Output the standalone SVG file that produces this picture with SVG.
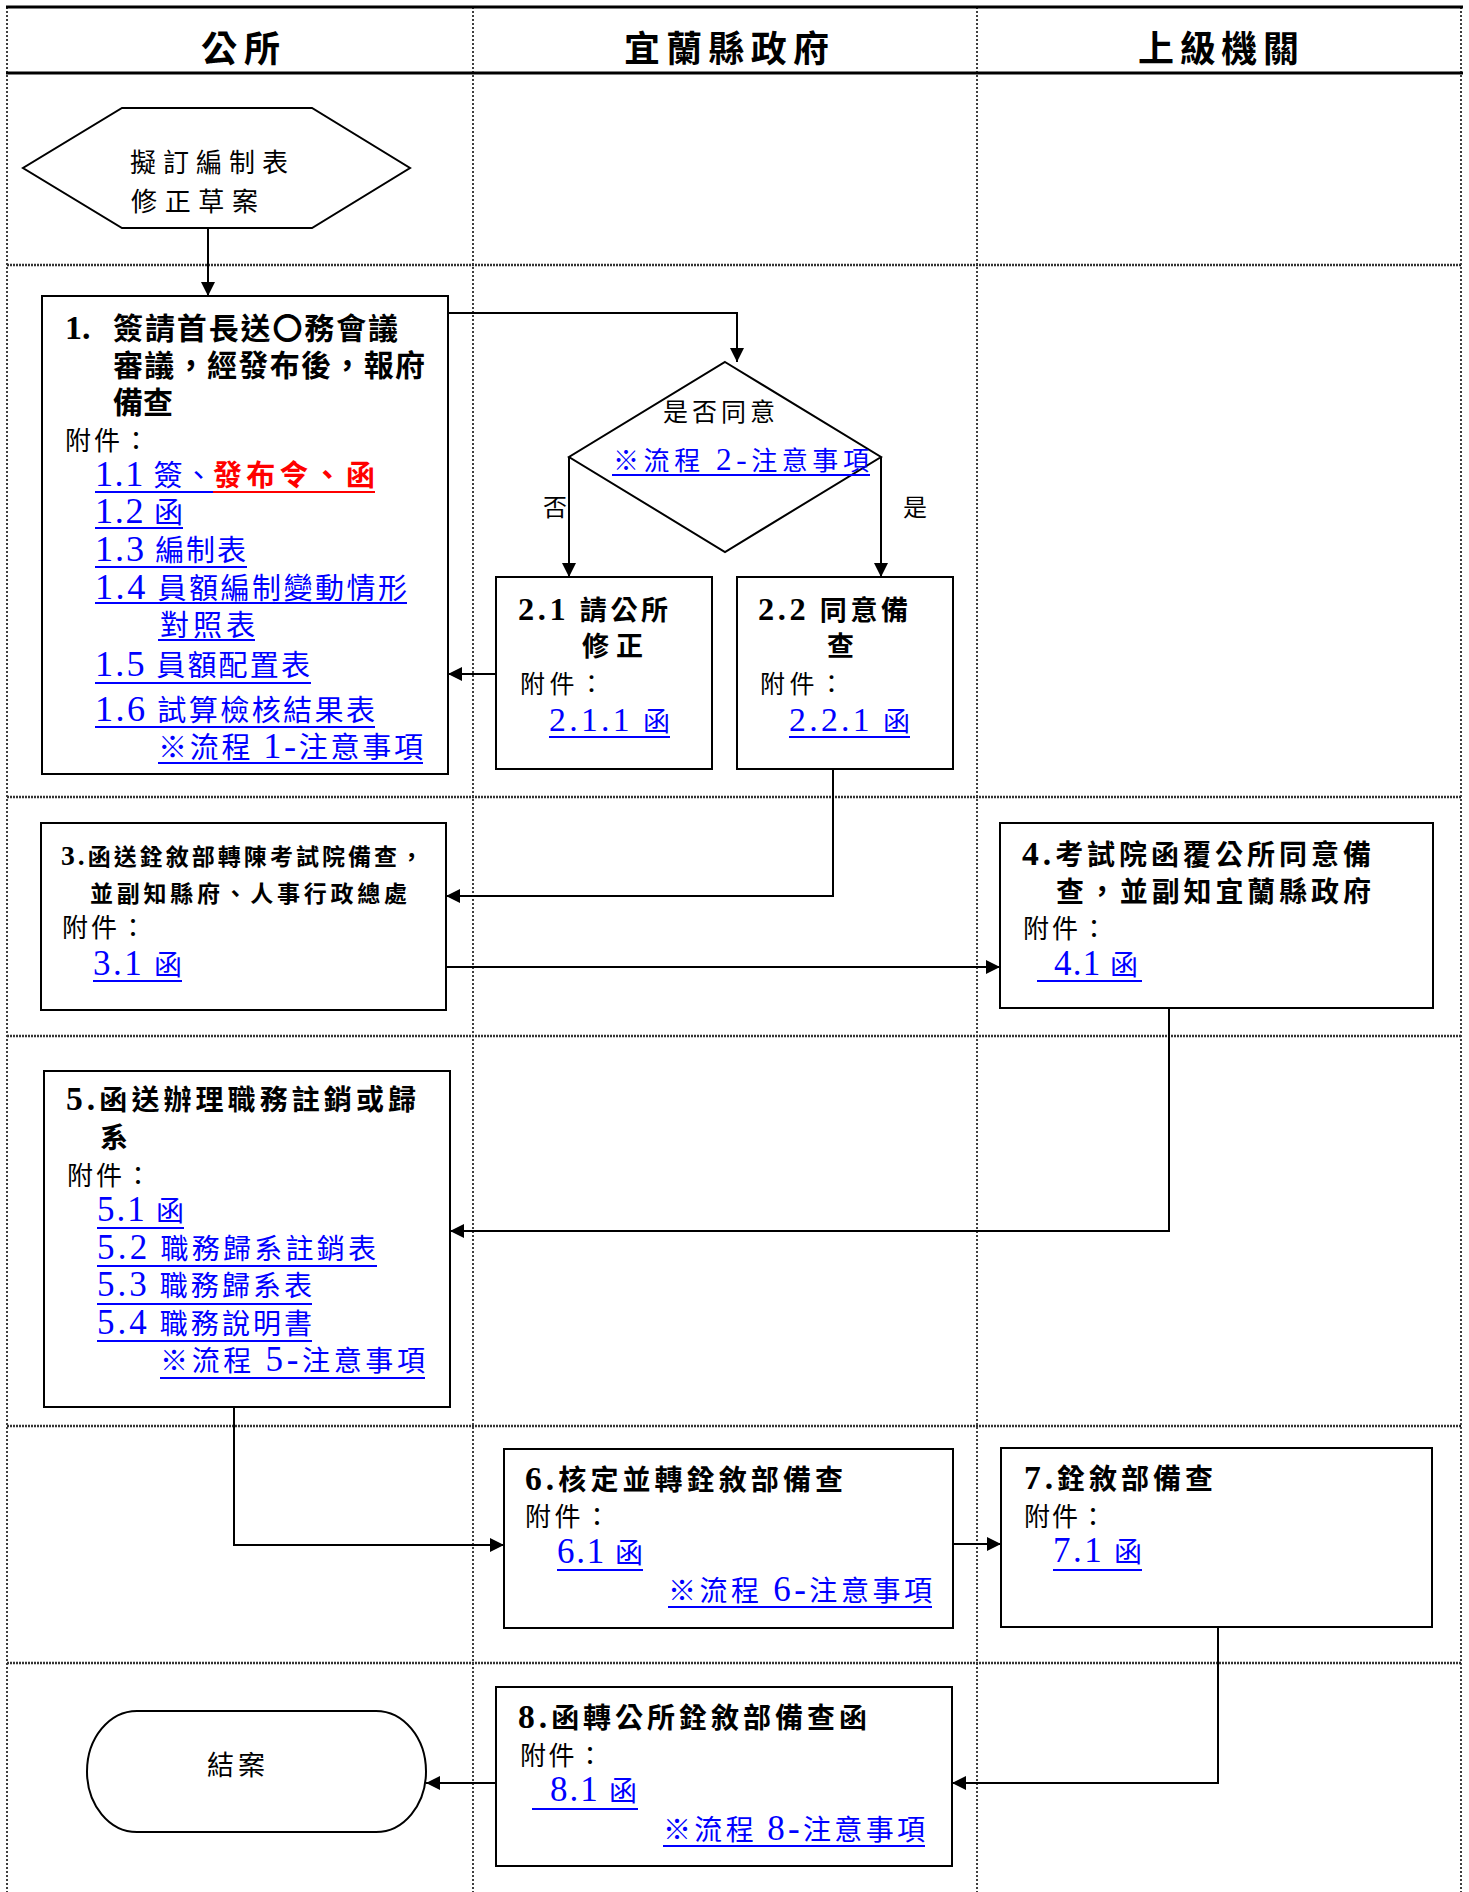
<svg xmlns="http://www.w3.org/2000/svg" width="1469" height="1892" viewBox="0 0 1469 1892">
<style>
text{font-family:"Liberation Serif","Noto Sans CJK TC",serif;fill:#000}
.hd{font-size:36px;font-weight:bold}
.b{font-weight:bold}
.lk{fill:#0000FF}
.rd{fill:#FF0000;font-weight:bold}
.dg{font-size:1.25em}
.dt{font-size:1.2em}
.box{fill:#fff;stroke:#000;stroke-width:2}
.shape{fill:#fff;stroke:#000;stroke-width:2}
.ul{stroke:#0000FF;stroke-width:2}
.ulr{stroke:#FF0000;stroke-width:2}
.conn{fill:none;stroke:#000;stroke-width:2}
.row{stroke:#333;stroke-width:2.5;stroke-dasharray:2 1}
.col{stroke:#000;stroke-width:1.5;stroke-dasharray:2 2}
.thick{stroke:#000;stroke-width:3}
</style>
<defs>
<marker id="arr" viewBox="0 0 10 10" refX="10" refY="5" markerWidth="15" markerHeight="14" markerUnits="userSpaceOnUse" orient="auto">
<path d="M0,0 L10,5 L0,10 Z" fill="#000"/>
</marker>
</defs>
<rect width="1469" height="1892" fill="#fff"/>
<g id="grid">
<line class="thick" x1="6" y1="7" x2="1463" y2="7"/>
<line class="thick" x1="6" y1="73" x2="1463" y2="73"/>
<line class="col" x1="7" y1="7" x2="7" y2="1892"/>
<line class="col" x1="473" y1="7" x2="473" y2="1892"/>
<line class="col" x1="977" y1="7" x2="977" y2="1892"/>
<line class="col" x1="1461" y1="7" x2="1461" y2="1892"/>
<line class="row" x1="7" y1="265" x2="1461" y2="265"/>
<line class="row" x1="7" y1="797" x2="1461" y2="797"/>
<line class="row" x1="7" y1="1036" x2="1461" y2="1036"/>
<line class="row" x1="7" y1="1426" x2="1461" y2="1426"/>
<line class="row" x1="7" y1="1663" x2="1461" y2="1663"/>
</g>
<g id="headers">
<text class="hd" x="201" y="62" textLength="79" lengthAdjust="spacing">公所</text>
<text class="hd" x="624" y="62" textLength="205" lengthAdjust="spacing">宜蘭縣政府</text>
<text class="hd" x="1138" y="62" textLength="161" lengthAdjust="spacing">上級機關</text>
</g>
<g id="connectors">
<path class="conn" d="M208,228 V296" marker-end="url(#arr)"/>
<path class="conn" d="M448,313 H737 V362" marker-end="url(#arr)"/>
<path class="conn" d="M569,457 V577" marker-end="url(#arr)"/>
<path class="conn" d="M881,457 V577" marker-end="url(#arr)"/>
<path class="conn" d="M496,674 H448" marker-end="url(#arr)"/>
<path class="conn" d="M833,769 V896 H446" marker-end="url(#arr)"/>
<path class="conn" d="M446,967 H1000" marker-end="url(#arr)"/>
<path class="conn" d="M1169,1008 V1231 H450" marker-end="url(#arr)"/>
<path class="conn" d="M234,1407 V1545 H504" marker-end="url(#arr)"/>
<path class="conn" d="M953,1544 H1001" marker-end="url(#arr)"/>
<path class="conn" d="M1218,1627 V1783 H952" marker-end="url(#arr)"/>
<path class="conn" d="M496,1783 H426" marker-end="url(#arr)"/>
<text x="543" y="516" style="font-size:24px">否</text>
<text x="903" y="516" style="font-size:24px">是</text>
</g>
<g id="start">
<polygon class="shape" points="122,108 312,108 410,168 312,228 122,228 23,168"/>
<text x="130" y="172" style="font-size:26px" textLength="158" lengthAdjust="spacing">擬訂編制表</text>
<text x="131" y="211" style="font-size:26px" textLength="127" lengthAdjust="spacing">修正草案</text>
</g>
<g id="node1">
<rect class="box" x="42" y="296" width="406" height="478"/>
<text class="b" x="65" y="339" style="font-size:34px">1.</text>
<text class="b" x="113" y="339" style="font-size:30px" textLength="285" lengthAdjust="spacing">簽請首長送〇務會議</text>
<text class="b" x="113" y="376" style="font-size:30px" textLength="312" lengthAdjust="spacing">審議，經發布後，報府</text>
<text class="b" x="113" y="413" style="font-size:30px" textLength="60" lengthAdjust="spacing">備查</text>
<text x="65" y="450" style="font-size:26px" textLength="84" lengthAdjust="spacing">附件：</text>
<g style="font-size:29px">
<text class="lk" x="95" y="486" textLength="118" lengthAdjust="spacing"><tspan class="dg">1.1</tspan> 簽、</text>
<text class="rd" x="213" y="486" textLength="162" lengthAdjust="spacing">發布令、函</text>
<text class="lk" x="95" y="523" textLength="88" lengthAdjust="spacing"><tspan class="dg">1.2</tspan> 函</text>
<text class="lk" x="95" y="561" textLength="151" lengthAdjust="spacing"><tspan class="dg">1.3</tspan> 編制表</text>
<text class="lk" x="95" y="599" textLength="312" lengthAdjust="spacing"><tspan class="dg">1.4</tspan> 員額編制變動情形</text>
<text class="lk" x="160" y="636" textLength="95" lengthAdjust="spacing">對照表</text>
<text class="lk" x="95" y="676" textLength="215" lengthAdjust="spacing"><tspan class="dg">1.5</tspan> 員額配置表</text>
<text class="lk" x="95" y="721" textLength="280" lengthAdjust="spacing"><tspan class="dg">1.6</tspan> 試算檢核結果表</text>
<text class="lk" x="158" y="758" textLength="265" lengthAdjust="spacing">※流程 <tspan class="dg">1-</tspan>注意事項</text>
</g>
<line class="ul" x1="95" y1="492" x2="213" y2="492"/>
<line class="ulr" x1="213" y1="492" x2="375" y2="492"/>
<line class="ul" x1="95" y1="528" x2="183" y2="528"/>
<line class="ul" x1="95" y1="567" x2="247" y2="567"/>
<line class="ul" x1="95" y1="603" x2="407" y2="603"/>
<line class="ul" x1="158" y1="640" x2="255" y2="640"/>
<line class="ul" x1="95" y1="683" x2="311" y2="683"/>
<line class="ul" x1="95" y1="727" x2="375" y2="727"/>
<line class="ul" x1="158" y1="763" x2="423" y2="763"/>
</g>
<g id="decision">
<polygon class="shape" points="725,362 881,457 725,552 569,457"/>
<text x="663" y="421" style="font-size:25px" textLength="112" lengthAdjust="spacing">是否同意</text>
<text class="lk" x="613" y="470" style="font-size:26px" textLength="256" lengthAdjust="spacing">※流程 <tspan class="dt">2-</tspan>注意事項</text>
<line class="ul" x1="612" y1="475" x2="870" y2="475"/>
</g>
<g id="node2-1">
<rect class="box" x="496" y="577" width="216" height="192"/>
<text class="b" x="518" y="620" style="font-size:27px" textLength="150" lengthAdjust="spacing"><tspan class="dt">2.1</tspan> 請公所</text>
<text class="b" x="582" y="656" style="font-size:27px" textLength="61" lengthAdjust="spacing">修正</text>
<text x="520" y="693" style="font-size:25px" textLength="84" lengthAdjust="spacing">附件：</text>
<text class="lk" x="549" y="731" style="font-size:27px" textLength="121" lengthAdjust="spacing"><tspan class="dg">2.1.1</tspan> 函</text>
<line class="ul" x1="549" y1="737" x2="670" y2="737"/>
</g>
<g id="node2-2">
<rect class="box" x="737" y="577" width="216" height="192"/>
<text class="b" x="758" y="620" style="font-size:27px" textLength="150" lengthAdjust="spacing"><tspan class="dt">2.2</tspan> 同意備</text>
<text class="b" x="827" y="656" style="font-size:27px">查</text>
<text x="760" y="693" style="font-size:25px" textLength="84" lengthAdjust="spacing">附件：</text>
<text class="lk" x="789" y="731" style="font-size:27px" textLength="121" lengthAdjust="spacing"><tspan class="dg">2.2.1</tspan> 函</text>
<line class="ul" x1="789" y1="737" x2="910" y2="737"/>
</g>
<g id="node3">
<rect class="box" x="41" y="823" width="405" height="187"/>
<text class="b" x="61" y="865" style="font-size:23px" textLength="362" lengthAdjust="spacing"><tspan class="dt">3.</tspan>函送銓敘部轉陳考試院備查，</text>
<text class="b" x="90" y="902" style="font-size:23px" textLength="317" lengthAdjust="spacing">並副知縣府、人事行政總處</text>
<text x="62" y="937" style="font-size:26px" textLength="84" lengthAdjust="spacing">附件：</text>
<text class="lk" x="93" y="975" style="font-size:28px" textLength="89" lengthAdjust="spacing"><tspan class="dg">3.1</tspan> 函</text>
<line class="ul" x1="93" y1="981" x2="182" y2="981"/>
</g>
<g id="node4">
<rect class="box" x="1000" y="823" width="433" height="185"/>
<text class="b" x="1022" y="865" style="font-size:28px" textLength="349" lengthAdjust="spacing"><tspan class="dt">4.</tspan>考試院函覆公所同意備</text>
<text class="b" x="1056" y="902" style="font-size:28px" textLength="315" lengthAdjust="spacing">查，並副知宜蘭縣政府</text>
<text x="1023" y="938" style="font-size:26px" textLength="84" lengthAdjust="spacing">附件：</text>
<text class="lk" x="1054" y="975" style="font-size:28px" textLength="84" lengthAdjust="spacing"><tspan class="dg">4.1</tspan> 函</text>
<line class="ul" x1="1037" y1="981" x2="1142" y2="981"/>
</g>
<g id="node5">
<rect class="box" x="44" y="1071" width="406" height="336"/>
<text class="b" x="66" y="1110" style="font-size:28px" textLength="350" lengthAdjust="spacing"><tspan class="dt">5.</tspan>函送辦理職務註銷或歸</text>
<text class="b" x="100" y="1148" style="font-size:28px">系</text>
<text x="67" y="1185" style="font-size:26px" textLength="84" lengthAdjust="spacing">附件：</text>
<g style="font-size:28px">
<text class="lk" x="97" y="1221" textLength="87" lengthAdjust="spacing"><tspan class="dg">5.1</tspan> 函</text>
<text class="lk" x="97" y="1259" textLength="279" lengthAdjust="spacing"><tspan class="dg">5.2</tspan> 職務歸系註銷表</text>
<text class="lk" x="97" y="1296" textLength="215" lengthAdjust="spacing"><tspan class="dg">5.3</tspan> 職務歸系表</text>
<text class="lk" x="97" y="1334" textLength="215" lengthAdjust="spacing"><tspan class="dg">5.4</tspan> 職務說明書</text>
<text class="lk" x="160" y="1371" textLength="265" lengthAdjust="spacing">※流程 <tspan class="dg">5-</tspan>注意事項</text>
</g>
<line class="ul" x1="97" y1="1228" x2="184" y2="1228"/>
<line class="ul" x1="97" y1="1266" x2="377" y2="1266"/>
<line class="ul" x1="97" y1="1304" x2="312" y2="1304"/>
<line class="ul" x1="97" y1="1341" x2="312" y2="1341"/>
<line class="ul" x1="160" y1="1378" x2="425" y2="1378"/>
</g>
<g id="node6">
<rect class="box" x="504" y="1449" width="449" height="179"/>
<text class="b" x="525" y="1490" style="font-size:28px" textLength="318" lengthAdjust="spacing"><tspan class="dt">6.</tspan>核定並轉銓敘部備查</text>
<text x="525" y="1526" style="font-size:26px" textLength="85" lengthAdjust="spacing">附件：</text>
<text class="lk" x="557" y="1563" style="font-size:28px" textLength="86" lengthAdjust="spacing"><tspan class="dg">6.1</tspan> 函</text>
<text class="lk" x="668" y="1601" style="font-size:28px" textLength="264" lengthAdjust="spacing">※流程 <tspan class="dg">6-</tspan>注意事項</text>
<line class="ul" x1="557" y1="1570" x2="643" y2="1570"/>
<line class="ul" x1="668" y1="1607" x2="932" y2="1607"/>
</g>
<g id="node7">
<rect class="box" x="1001" y="1448" width="431" height="179"/>
<text class="b" x="1024" y="1489" style="font-size:28px" textLength="189" lengthAdjust="spacing"><tspan class="dt">7.</tspan>銓敘部備查</text>
<text x="1024" y="1526" style="font-size:26px" textLength="82" lengthAdjust="spacing">附件：</text>
<text class="lk" x="1053" y="1562" style="font-size:28px" textLength="89" lengthAdjust="spacing"><tspan class="dg">7.1</tspan> 函</text>
<line class="ul" x1="1053" y1="1570" x2="1142" y2="1570"/>
</g>
<g id="node8">
<rect class="box" x="496" y="1687" width="456" height="179"/>
<text class="b" x="518" y="1728" style="font-size:28px" textLength="349" lengthAdjust="spacing"><tspan class="dt">8.</tspan>函轉公所銓敘部備查函</text>
<text x="520" y="1765" style="font-size:26px" textLength="83" lengthAdjust="spacing">附件：</text>
<text class="lk" x="550" y="1801" style="font-size:28px" textLength="87" lengthAdjust="spacing"><tspan class="dg">8.1</tspan> 函</text>
<text class="lk" x="663" y="1840" style="font-size:28px" textLength="262" lengthAdjust="spacing">※流程 <tspan class="dg">8-</tspan>注意事項</text>
<line class="ul" x1="532" y1="1809" x2="638" y2="1809"/>
<line class="ul" x1="663" y1="1846" x2="925" y2="1846"/>
</g>
<g id="end">
<path class="shape" d="M137,1711 H376 A50,60.5 0 0 1 376,1832 H137 A50,60.5 0 0 1 137,1711 Z"/>
<text x="207" y="1775" style="font-size:27px" textLength="58" lengthAdjust="spacing">結案</text>
</g>
</svg>
